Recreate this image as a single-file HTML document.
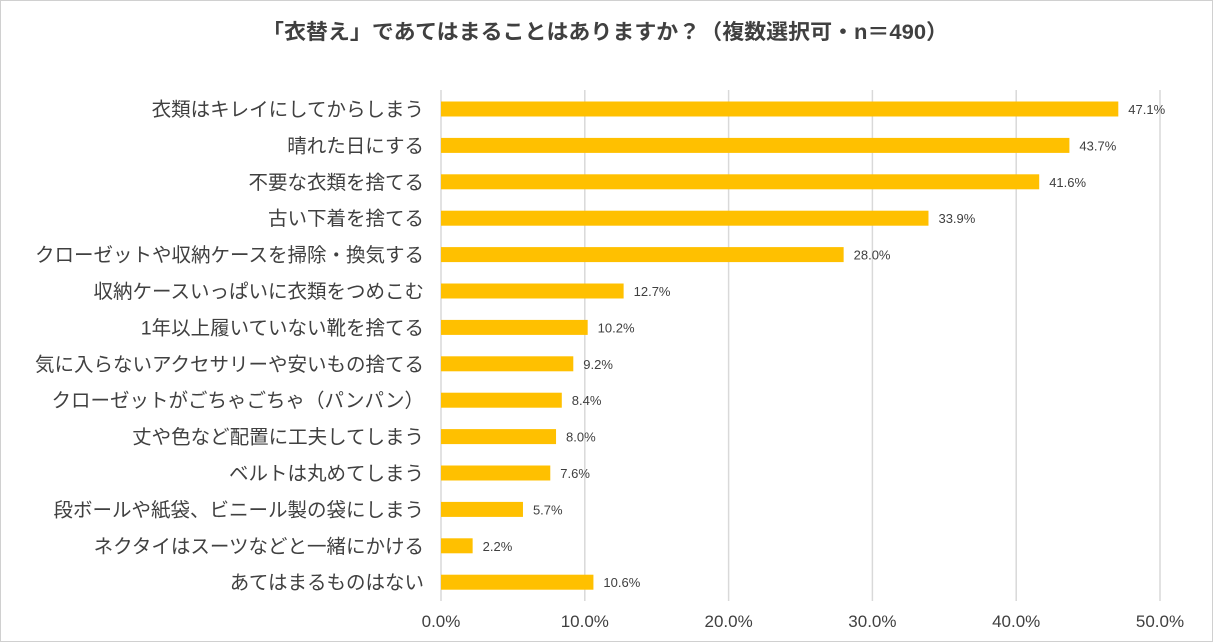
<!DOCTYPE html>
<html><head><meta charset="utf-8"><style>
body{margin:0;background:#fff;}
#c{position:absolute;left:0;top:0;width:1213px;height:642px;}
</style></head><body>
<svg id="c" width="1213" height="642" xmlns="http://www.w3.org/2000/svg" font-family="'Liberation Sans','Noto Sans CJK JP',sans-serif">
<rect x="0.5" y="0.5" width="1212" height="641" fill="#fff" stroke="#d0d0d0"/>
<text x="605" y="39" text-anchor="middle" font-size="21" font-weight="bold" fill="#404040" textLength="686" lengthAdjust="spacingAndGlyphs">「衣替え」であてはまることはありますか？（複数選択可・n＝490）</text>
<g id="grid"></g><g id="bars"></g>
</svg>
<script>
const categories=["衣類はキレイにしてからしまう","晴れた日にする","不要な衣類を捨てる","古い下着を捨てる","クローゼットや収納ケースを掃除・換気する","収納ケースいっぱいに衣類をつめこむ","1年以上履いていない靴を捨てる","気に入らないアクセサリーや安いもの捨てる","クローゼットがごちゃごちゃ（パンパン）","丈や色など配置に工夫してしまう","ベルトは丸めてしまう","段ボールや紙袋、ビニール製の袋にしまう","ネクタイはスーツなどと一緒にかける","あてはまるものはない"];
const values=[47.1,43.7,41.6,33.9,28.0,12.7,10.2,9.2,8.4,8.0,7.6,5.7,2.2,10.6];
const ticks=[0,10,20,30,40,50];
const tickLabels=["0.0%","10.0%","20.0%","30.0%","40.0%","50.0%"];
const NS="http://www.w3.org/2000/svg";
const x=v=>441+v*14.38;
const y=i=>109+i*36.4;
function mk(t,a,p){const e=document.createElementNS(NS,t);for(const k in a)e.setAttribute(k,a[k]);p.appendChild(e);return e;}
const g=document.getElementById('grid'),b=document.getElementById('bars');
ticks.forEach((t,i)=>{
 const l=mk('line',{x1:x(t),x2:x(t),y1:90,y2:601,stroke:'#d9d9d9','stroke-width':1.5},g);
 
 
 const tx=mk('text',{x:x(t),y:627,'text-anchor':'middle','font-size':17,fill:'#404040'},g);
 tx.textContent=tickLabels[i];
 
 
});
categories.forEach((c,i)=>{
 const lb=mk('text',{x:424,y:y(i)+7,'text-anchor':'end','font-size':19.5,fill:'#404040'},b);
 lb.textContent=c;
 
 
 const r=mk('rect',{x:x(0),y:y(i)-7.5,width:x(values[i])-x(0),height:15,fill:'#FFC000'},b);
 
 
 const v=mk('text',{x:x(values[i])+10,y:y(i)+5,'font-size':13,fill:'#404040'},b);
 v.textContent=values[i].toFixed(1)+'%';
 
 
});
</script>
</body></html>
